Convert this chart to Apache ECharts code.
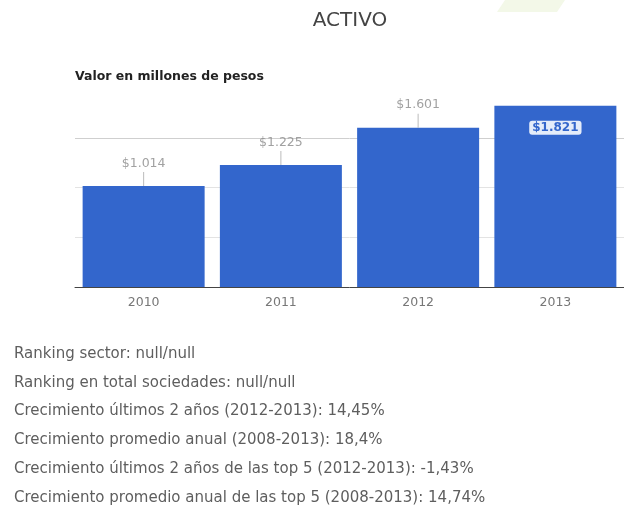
<!DOCTYPE html>
<html>
<head>
<meta charset="utf-8">
<script src="https://cdn.jsdelivr.net/npm/echarts@6/dist/echarts.min.js"></script>
<style>html,body{margin:0;padding:0;background:#fff;}#c{width:624px;height:512px;}</style>
</head>
<body>
<div id="c"></div>
<script>
const titleText = 'ACTIVO';
const subtitleText = 'Valor en millones de pesos';
const categories = ['2010', '2011', '2012', '2013'];
const values = [1014, 1225, 1601, 1821];
const valueLabels = ['$1.014', '$1.225', '$1.601', '$1.821'];
const infoLines = [
  'Ranking sector: null/null',
  'Ranking en total sociedades: null/null',
  'Crecimiento últimos 2 años (2012-2013): 14,45%',
  'Crecimiento promedio anual (2008-2013): 18,4%',
  'Crecimiento últimos 2 años de las top 5 (2012-2013): -1,43%',
  'Crecimiento promedio anual de las top 5 (2008-2013): 14,74%'
];

const chart = echarts.init(document.getElementById('c'), null, {renderer: 'canvas'});
const FONT = '"DejaVu Sans", Verdana, sans-serif';

const infoGraphics = infoLines.map((t, i) => ({
  type: 'text',
  x: 14,
  y: 354 + i * 28.8,
  style: { text: t, fill: '#5e5e5e', font: '15px ' + FONT, textVerticalAlign: 'middle' }
}));

chart.setOption({
  animation: false,
  backgroundColor: '#fff',
  grid: { left: 75, right: 0, top: 88, bottom: 225 },
  xAxis: {
    type: 'category',
    data: categories,
    axisLine: { lineStyle: { color: '#444', width: 1 } },
    axisTick: { show: false },
    axisLabel: { color: '#777', fontSize: 12.5, margin: 9, fontFamily: FONT }
  },
  yAxis: {
    type: 'value',
    min: 0, max: 2000, interval: 500,
    axisLabel: { show: false },
    axisLine: { show: false },
    axisTick: { show: false },
    splitLine: { lineStyle: { color: ['#ddd', '#e3e3e3', '#e3e3e3', '#cfcfcf', 'rgba(0,0,0,0)'] } }
  },
  series: [
    {
      type: 'bar',
      data: values.map((v, i) => i === values.length - 1 ? {
        value: v,
        label: {
          show: true, position: 'insideTop', distance: 15,
          formatter: valueLabels[i],
          color: '#3366cc', backgroundColor: '#e4ecfa',
          padding: [1, 3], borderRadius: 3,
          fontSize: 12, fontWeight: 'bold', fontFamily: FONT
        }
      } : v),
      barWidth: 122,
      itemStyle: { color: '#3366cc' },
      z: 2
    },
    {
      type: 'scatter',
      data: values.map((v, i) => i === values.length - 1 ? '-' : v),
      symbol: 'rect',
      symbolSize: [1, 14],
      symbolOffset: [0, -7],
      itemStyle: { color: '#aaa' },
      label: {
        show: true, position: 'top', distance: 2,
        formatter: p => valueLabels[p.dataIndex],
        color: '#8a8a8a', fontSize: 12.5, fontFamily: FONT
      },
      z: 3
    }
  ],
  graphic: [
    {
      type: 'polygon',
      shape: { points: [[497, 12], [505, 0], [565, 0], [557, 12]] },
      style: { fill: '#f3f8e8' },
      silent: true
    },
    {
      type: 'text',
      x: 350, y: 21,
      style: { text: titleText, fill: '#444', font: '20px ' + FONT, textAlign: 'center', textVerticalAlign: 'middle' }
    },
    {
      type: 'text',
      x: 75, y: 77,
      style: { text: subtitleText, fill: '#222', font: 'bold 12.5px ' + FONT, textVerticalAlign: 'middle' }
    }
  ].concat(infoGraphics)
});
</script>
</body>
</html>
